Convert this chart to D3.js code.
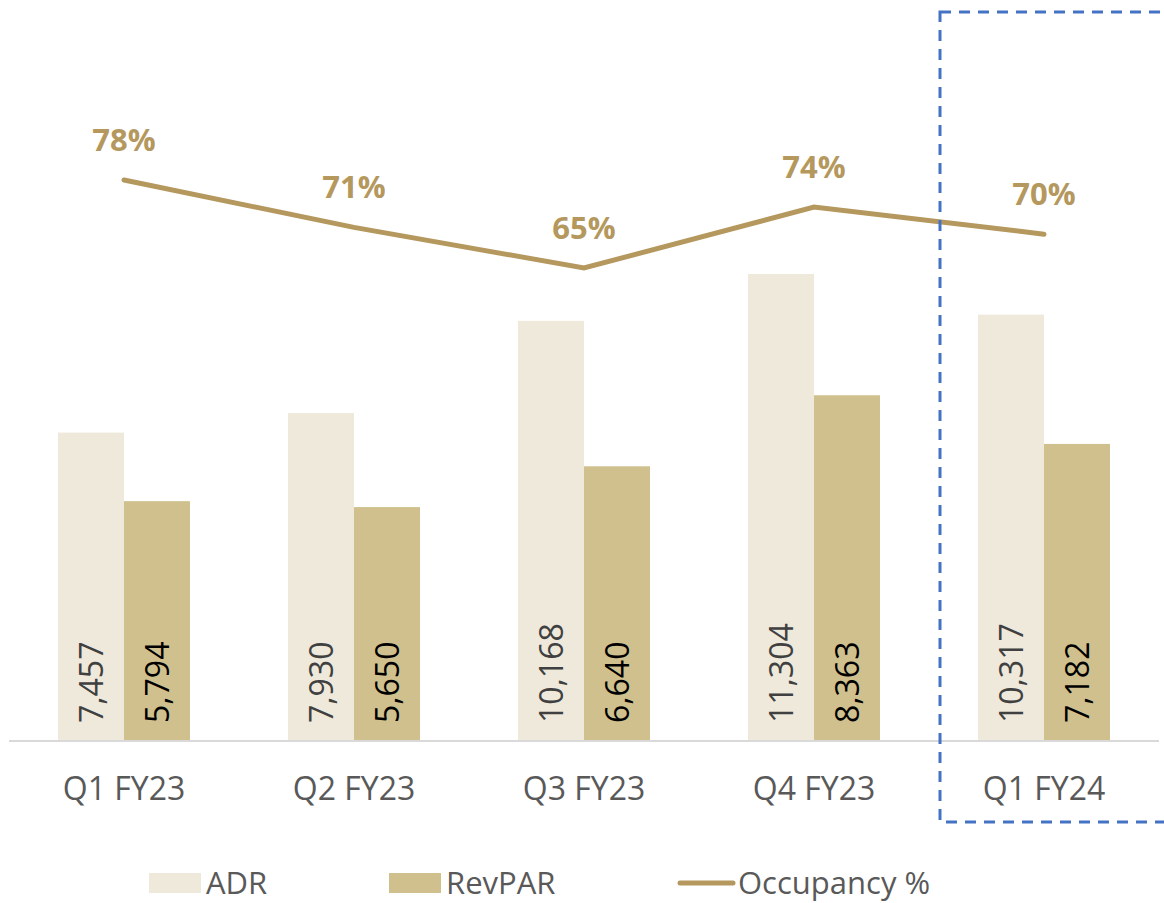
<!DOCTYPE html>
<html><head><meta charset="utf-8">
<script src="https://cdn.jsdelivr.net/npm/d3@7"></script>
<style>body{margin:0;background:#fff}svg{display:block}</style>
</head><body>
<script>
const categories = ["Q1 FY23","Q2 FY23","Q3 FY23","Q4 FY23","Q1 FY24"];
const adr = [7457,7930,10168,11304,10317];
const revpar = [5794,5650,6640,8363,7182];
const occupancy = [78,71,65,74,70];
const seriesNames = ["ADR","RevPAR","Occupancy %"];

const W=1164,H=903;
const font="'Open Sans', 'Noto Sans', sans-serif";
const svg=d3.select("body").append("svg").attr("width",W).attr("height",H);

const x=d3.scaleBand().domain(categories).range([9,1159]).paddingInner(0.426).paddingOuter(0.213);
const sub=d3.scaleBand().domain(["ADR","RevPAR"]).range([0,x.bandwidth()]);
const y=d3.scaleLinear().domain([0,11304]).range([740,274]);
const yL=d3.scaleLinear().domain([65,78]).range([268,180]);

const colors={ADR:"#efe9db",RevPAR:"#d0c08e"};
const lineColor="#b4985e";

// bars
categories.forEach((c,i)=>{
  [["ADR",adr[i],"#404040"],["RevPAR",revpar[i],"#000"]].forEach(([k,v,tc])=>{
    const bx=x(c)+sub(k);
    svg.append("rect").attr("x",bx).attr("y",y(v)).attr("width",sub.bandwidth()).attr("height",y(0)-y(v)).attr("fill",colors[k]);
    svg.append("text").attr("transform",`translate(${bx+sub.bandwidth()/2+12},${y(0)-17}) rotate(-90)`)
      .attr("font-family",font).attr("font-size",32).attr("fill",tc).text(d3.format(",")(v));
  });
});

// axis line
svg.append("line").attr("x1",9).attr("x2",1159).attr("y1",741).attr("y2",741).attr("stroke","#d9d9d9").attr("stroke-width",2);

// category labels
const xa=svg.append("g").attr("transform","translate(0,741)").call(d3.axisBottom(x).tickSize(0).tickPadding(0));
xa.select(".domain").remove();
xa.selectAll("text").attr("font-family",font).attr("font-size",32).attr("fill","#595959").attr("dy",0).attr("y",59);

// line
const cx=c=>x(c)+x.bandwidth()/2;
svg.append("path").datum(occupancy).attr("fill","none").attr("stroke",lineColor).attr("stroke-width",5).attr("stroke-linecap","round")
  .attr("d",d3.line().x((d,i)=>cx(categories[i])).y(d=>yL(d)));
svg.selectAll(".pl").data(occupancy).enter().append("text")
  .attr("x",(d,i)=>cx(categories[i])).attr("y",d=>yL(d)-29).attr("text-anchor","middle")
  .attr("font-family",font).attr("font-weight","bold").attr("font-size",31).attr("fill",lineColor).text(d=>d+"%");

// dashed highlight
svg.append("rect").attr("x",940).attr("y",12).attr("width",240).attr("height",810).attr("fill","none")
  .attr("stroke","#4472c4").attr("stroke-width",3).attr("stroke-dasharray","11,8");

// legend
const lg=svg.append("g");
lg.append("rect").attr("x",149).attr("y",873).attr("width",52).attr("height",20).attr("fill",colors.ADR);
lg.append("text").attr("x",206).attr("y",894).attr("font-family",font).attr("font-size",31).attr("fill","#595959").text(seriesNames[0]);
lg.append("rect").attr("x",389).attr("y",873).attr("width",52).attr("height",20).attr("fill",colors.RevPAR);
lg.append("text").attr("x",446).attr("y",894).attr("font-family",font).attr("font-size",31).attr("fill","#595959").text(seriesNames[1]);
lg.append("line").attr("x1",680).attr("x2",733).attr("y1",883).attr("y2",883).attr("stroke",lineColor).attr("stroke-width",5).attr("stroke-linecap","round");
lg.append("text").attr("x",738).attr("y",894).attr("font-family",font).attr("font-size",31).attr("fill","#595959").text(seriesNames[2]);
</script>
</body></html>
